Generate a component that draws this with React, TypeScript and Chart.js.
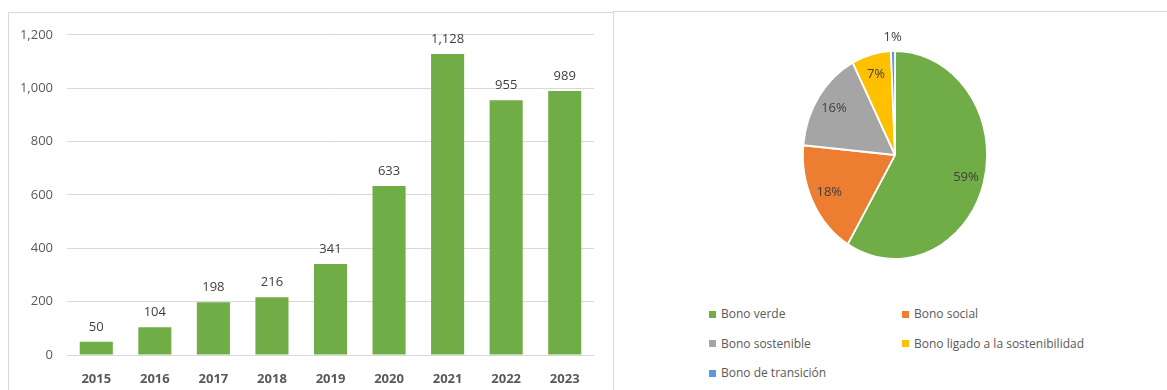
import React, { useEffect, useRef } from "react";
import { Chart, registerables } from "chart.js";
Chart.register(...registerables);

// ---- data ----
const years = ["2015", "2016", "2017", "2018", "2019", "2020", "2021", "2022", "2023"];
const volumes = [50, 104, 198, 216, 341, 633, 1128, 955, 989];
const yMax = 1200;
const yStep = 200;

const bondTypes = [
  "Bono verde",
  "Bono social",
  "Bono sostenible",
  "Bono ligado a la sostenibilidad",
  "Bono de transición",
];
const bondShares = [58.6, 17.9, 15.9, 6.9, 0.7];

// ---- styles ----
const barColor = "#70ad47";
const bondColors = ["#70ad47", "#ed7d31", "#a5a5a5", "#ffc000", "#5b9bd5"];
const FONT = '"Open Sans", sans-serif';
const AXIS_TEXT = "#595959";
const LABEL_TEXT = "#404040";
const GRID = "#d9d9d9";
const PIE_SX = 0.885;

const barLabelPlugin = {
  id: "barLabels",
  afterDatasetsDraw(chart: any) {
    const ctx = chart.ctx;
    const meta = chart.getDatasetMeta(0);
    ctx.save();
    ctx.font = `13px ${FONT}`;
    ctx.fillStyle = LABEL_TEXT;
    ctx.textAlign = "center";
    ctx.textBaseline = "alphabetic";
    meta.data.forEach((bar: any, i: number) => {
      ctx.fillText(volumes[i].toLocaleString("en-US"), bar.x, bar.y - 11);
    });
    ctx.restore();
  },
};

const ellipsePlugin = {
  id: "ellipsePie",
  beforeDatasetsDraw(chart: any) {
    const { ctx, chartArea } = chart;
    const cx = (chartArea.left + chartArea.right) / 2;
    const cy = (chartArea.top + chartArea.bottom) / 2;
    ctx.save();
    ctx.translate(cx, cy);
    ctx.scale(PIE_SX, 1);
    ctx.translate(-cx, -cy);
  },
  afterDatasetsDraw(chart: any) {
    const ctx = chart.ctx;
    ctx.restore();
    const meta = chart.getDatasetMeta(0);
    const data = chart.data.datasets[0].data as number[];
    const total = data.reduce((a, b) => a + b, 0);
    ctx.save();
    ctx.font = `13px ${FONT}`;
    ctx.fillStyle = LABEL_TEXT;
    ctx.textAlign = "center";
    ctx.textBaseline = "middle";
    meta.data.forEach((arc: any, i: number) => {
      const { x, y, startAngle, endAngle, outerRadius } = arc.getProps(
        ["x", "y", "startAngle", "endAngle", "outerRadius"],
        true
      );
      const mid = (startAngle + endAngle) / 2;
      const pct = (data[i] / total) * 100;
      const f = pct < 3 ? 1.135 : 0.8;
      const lx = x + Math.cos(mid) * outerRadius * f * PIE_SX;
      const ly = y + Math.sin(mid) * outerRadius * f;
      ctx.fillText(Math.round(pct) + "%", lx, ly);
    });
    ctx.restore();
  },
};

export default function App() {
  const barRef = useRef<HTMLCanvasElement>(null);
  const pieRef = useRef<HTMLCanvasElement>(null);

  useEffect(() => {
    const bar = new Chart(barRef.current!, {
      type: "bar",
      data: {
        labels: years,
        datasets: [
          {
            data: volumes,
            backgroundColor: barColor,
            barPercentage: 0.565,
            categoryPercentage: 1,
          },
        ],
      },
      options: {
        responsive: false,
        animation: false,
        events: [],
        layout: { padding: { left: 0, right: 18, top: 19, bottom: 0 } },
        plugins: { legend: { display: false }, tooltip: { enabled: false } },
        scales: {
          x: {
            grid: { display: false },
            border: { display: false },
            ticks: {
              color: AXIS_TEXT,
              font: { family: FONT, size: 13, weight: "bold" },
              padding: 8,
            },
            afterFit: (s: any) => {
              s.height = 35;
            },
          },
          y: {
            min: 0,
            max: yMax,
            grid: { color: GRID, drawTicks: false },
            border: { display: false },
            ticks: {
              stepSize: yStep,
              color: AXIS_TEXT,
              font: { family: FONT, size: 13 },
              padding: 14,
              callback: (v: any) => Number(v).toLocaleString("en-US"),
            },
            afterFit: (s: any) => {
              s.width = 58;
            },
          },
        },
      },
      plugins: [barLabelPlugin],
    } as any);

    const pie = new Chart(pieRef.current!, {
      type: "pie",
      data: {
        labels: bondTypes,
        datasets: [
          {
            data: bondShares,
            backgroundColor: bondColors,
            borderColor: "#ffffff",
            borderWidth: 2,
            radius: 104,
          },
        ],
      },
      options: {
        responsive: false,
        animation: false,
        events: [],
        layout: { padding: 0 },
        plugins: { legend: { display: false }, tooltip: { enabled: false } },
      },
      plugins: [ellipsePlugin],
    } as any);

    return () => {
      bar.destroy();
      pie.destroy();
    };
  }, []);

  return (
    <div
      style={{
        position: "absolute",
        left: 0,
        top: 0,
        width: 1167,
        height: 390,
        overflow: "hidden",
        background: "#ffffff",
        fontFamily: FONT,
      }}
    >
      <div
        style={{
          position: "absolute",
          left: 8,
          top: 12,
          width: 604,
          height: 390,
          borderTop: `1px solid ${GRID}`,
          borderLeft: `1px solid ${GRID}`,
          borderRight: `1px solid ${GRID}`,
        }}
      />
      <div
        style={{
          position: "absolute",
          left: 613,
          top: 11,
          width: 560,
          height: 390,
          borderTop: `1px solid ${GRID}`,
          borderLeft: `1px solid ${GRID}`,
        }}
      />
      <canvas
        ref={barRef}
        width={603}
        height={377}
        style={{ position: "absolute", left: 9, top: 13, width: 603, height: 377 }}
      />
      <canvas
        ref={pieRef}
        width={300}
        height={300}
        style={{ position: "absolute", left: 745, top: 5, width: 300, height: 300 }}
      />
      <div
        style={{
          position: "absolute",
          left: 709,
          top: 306,
          display: "grid",
          gridTemplateColumns: "193px 193px",
          rowGap: 13.5,
          fontSize: 12,
          lineHeight: "16px",
          color: AXIS_TEXT,
        }}
      >
        {bondTypes.map((t, i) => (
          <div key={t} style={{ display: "flex", alignItems: "center", whiteSpace: "nowrap" }}>
            <span
              style={{
                display: "inline-block",
                width: 7,
                height: 7,
                background: bondColors[i],
                marginRight: 5,
              }}
            />
            <span>{t}</span>
          </div>
        ))}
      </div>
    </div>
  );
}
